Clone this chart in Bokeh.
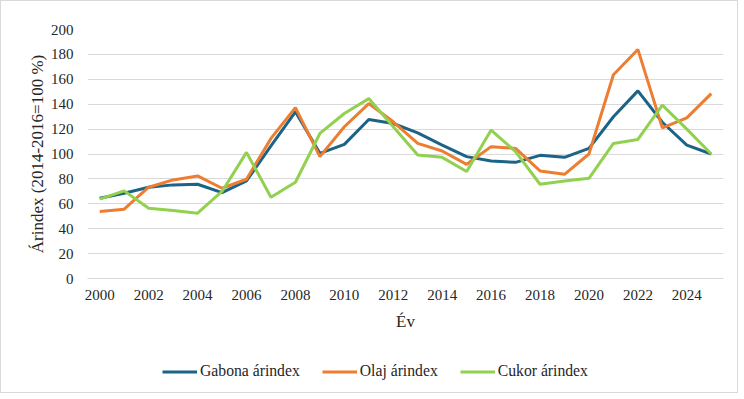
from bokeh.plotting import figure
from bokeh.layouts import column
from bokeh.models import Range1d, FixedTicker, Legend, LegendItem, ColumnDataSource
from bokeh.embed import file_html
from bokeh.resources import INLINE

years = list(range(2000, 2026))
gabona = [64.5, 68.5, 73.3, 75.2, 75.7, 69.0, 78.4, 106.5, 133.9, 100.5, 107.7, 127.7, 124.5,
          117.0, 107.2, 97.9, 94.4, 93.3, 98.9, 97.3, 104.5, 129.9, 150.7, 125.5, 107.2, 100.0]
olaj = [53.9, 55.7, 73.3, 79.2, 82.4, 72.5, 79.7, 112.5, 137.3, 97.9, 121.9, 140.5, 125.9,
        108.5, 102.4, 91.7, 105.9, 104.5, 86.4, 83.7, 100.0, 163.7, 184.0, 121.0, 129.0, 148.5]
cukor = [63.7, 70.4, 56.5, 54.7, 52.5, 69.9, 101.3, 65.3, 77.3, 116.5, 132.5, 144.5, 121.9,
         99.2, 97.3, 85.9, 119.2, 101.9, 75.7, 78.4, 80.5, 108.5, 111.7, 139.2, 120.0, 100.0]
series_names = ["Gabona árindex", "Olaj árindex", "Cukor árindex"]
colors = ["#1B6387", "#ED7D31", "#92D050"]
x_ticks = list(range(2000, 2025, 2))
y_ticks = list(range(0, 201, 20))

FONT = "Liberation Serif"
TXT = "#262626"

src = ColumnDataSource(dict(year=years, gabona=gabona, olaj=olaj, cukor=cukor))
cols = ["gabona", "olaj", "cukor"]

p = figure(width=736, height=350, output_backend="svg", toolbar_location=None,
           x_range=Range1d(1999.5, 2025.5), y_range=Range1d(0, 200),
           min_border_left=86, min_border_right=14, min_border_top=28, min_border_bottom=73)
p.outline_line_color = None

for col, c in zip(cols, colors):
    p.line("year", col, source=src, line_color=c, line_width=3)

p.xgrid.grid_line_color = None
p.ygrid.grid_line_color = "#D9D9D9"
p.ygrid.grid_line_width = 1

p.xaxis.ticker = FixedTicker(ticks=x_ticks)
p.yaxis.ticker = FixedTicker(ticks=y_ticks)
for ax in (p.xaxis, p.yaxis):
    ax.major_tick_line_color = None
    ax.minor_tick_line_color = None
    ax.major_label_text_font = FONT
    ax.major_label_text_font_size = "15px"
    ax.major_label_text_color = TXT
    ax.axis_label_text_font = FONT
    ax.axis_label_text_font_size = "17px"
    ax.axis_label_text_color = TXT
    ax.axis_label_text_font_style = "normal"
p.xaxis.axis_line_color = "#D9D9D9"
p.yaxis.axis_line_color = None
p.xaxis.major_label_standoff = 5
p.yaxis.major_label_standoff = 8
p.xaxis.axis_label = "Év"
p.yaxis.axis_label = "Árindex (2014-2016=100 %)"
p.xaxis.axis_label_standoff = 9
p.yaxis.axis_label_standoff = 1

# legend strip (its frame is aligned with the main frame by the column layout)
lf = figure(width=736, height=41, output_backend="svg", toolbar_location=None,
            x_range=Range1d(0, 1), y_range=Range1d(0, 1), x_axis_type=None, y_axis_type=None,
            min_border_left=0, min_border_right=0, min_border_top=0, min_border_bottom=0)
lf.outline_line_color = None
lf.xgrid.visible = False
lf.ygrid.visible = False
leg_renderers = [lf.line("year", col, source=src, line_color=c, line_width=3)
                 for col, c in zip(cols, colors)]

legend = Legend(items=[LegendItem(label=n, renderers=[r]) for n, r in zip(series_names, leg_renderers)],
                orientation="horizontal", location=(75, 12))
legend.label_text_font = FONT
legend.label_text_font_size = "15.7px"
legend.label_text_color = TXT
legend.glyph_width = 35
legend.glyph_height = 17
legend.label_standoff = 3
legend.spacing = 22
legend.padding = 0
legend.margin = 0
legend.border_line_color = None
legend.background_fill_alpha = 0
lf.add_layout(legend)

layout = column(p, lf, spacing=0,
                styles={"border": "1px solid #D9D9D9", "box-sizing": "border-box"})

open("out.html", "w").write(file_html(layout, INLINE))
